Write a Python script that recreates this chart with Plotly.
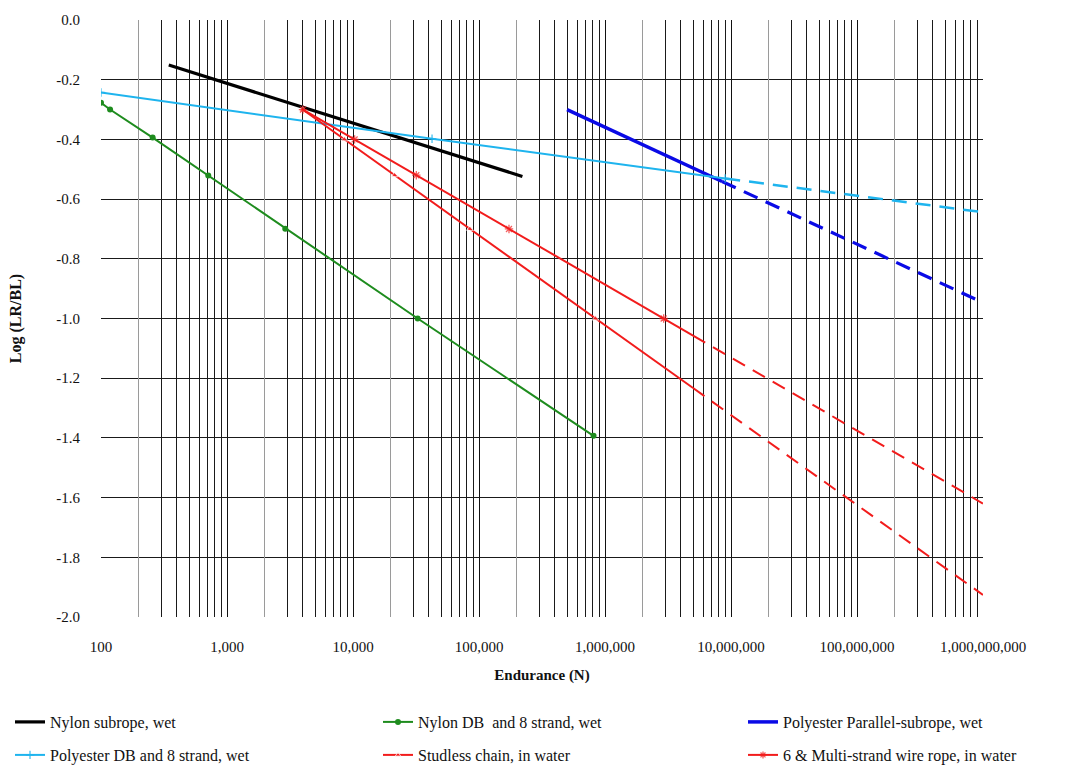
import plotly.graph_objects as go

# ---------------- data ----------------
nylon_sub_N = [345, 221000]
nylon_sub_y = [-0.151, -0.524]

nylon_db_N = [100, 118, 257, 710, 2900, 32600, 811000]
nylon_db_y = [-0.277, -0.30, -0.394, -0.521, -0.699, -1.0, -1.393]

poly_par_N = [500000, 8.5e6]
poly_par_y = [-0.30, -0.541]
poly_par_ext_N = [8.5e6, 1e9]
poly_par_ext_y = [-0.541, -0.947]

poly_db_N = [100, 42400, 9e6]
poly_db_y = [-0.243, -0.398, -0.531]
poly_db_ext_N = [9e6, 1e9]
poly_db_ext_y = [-0.531, -0.644]

chain_N = [3980, 8550, 21400, 84700, 840000, 5e6]
chain_y = [-0.30, -0.40, -0.52, -0.70, -1.0, -1.233]
chain_ext_N = [5e6, 1e9]
chain_ext_y = [-1.233, -1.926]

wire_N = [4010, 10300, 31800, 173000, 2.92e6, 5e6]
wire_y = [-0.30, -0.40, -0.52, -0.70, -1.0, -1.057]
wire_ext_N = [5e6, 1e9]
wire_ext_y = [-1.057, -1.62]

x_tickvals = [1e2, 1e3, 1e4, 1e5, 1e6, 1e7, 1e8, 1e9]
x_ticktext = ["100", "1,000", "10,000", "100,000", "1,000,000",
              "10,000,000", "100,000,000", "1,000,000,000"]
y_tickvals = [0.0, -0.2, -0.4, -0.6, -0.8, -1.0, -1.2, -1.4, -1.6, -1.8, -2.0]
y_ticktext = ["0.0", "-0.2", "-0.4", "-0.6", "-0.8", "-1.0", "-1.2", "-1.4",
              "-1.6", "-1.8", "-2.0"]

names = ["Nylon subrope, wet", "Nylon DB  and 8 strand, wet",
         "Polyester Parallel-subrope, wet", "Polyester DB and 8 strand, wet",
         "Studless chain, in water", "6 & Multi-strand wire rope, in water"]

# ---------------- figure ----------------
FONT = "Liberation Serif"
BLACK = "#000000"
GREEN = "#1e8c1e"
BLUE = "#0a0ae6"
CYAN = "#1eb4ee"
RED = "#f21c1c"


def sizes(n, s, hide_last=False):
    out = [s] * n
    if hide_last:
        out[-1] = 0
    return out


fig = go.Figure()

minor_black = [m * 10 ** k for k in range(2, 9) for m in range(3, 10)]
minor_gray = [2 * 10 ** k for k in range(2, 9)]

fig.add_trace(go.Scatter(x=nylon_sub_N, y=nylon_sub_y, mode="lines", name=names[0],
                         line=dict(color=BLACK, width=3.2), legend="legend"))
fig.add_trace(go.Scatter(x=nylon_db_N, y=nylon_db_y, mode="lines+markers", name=names[1],
                         line=dict(color=GREEN, width=2),
                         marker=dict(symbol="circle", size=6, color=GREEN), legend="legend2"))
fig.add_trace(go.Scatter(x=poly_par_N, y=poly_par_y, mode="lines", name=names[2],
                         line=dict(color=BLUE, width=3.5), legend="legend3",
                         legendgroup="pp"))
fig.add_trace(go.Scatter(x=poly_par_ext_N, y=poly_par_ext_y, mode="lines", name=names[2],
                         line=dict(color=BLUE, width=3.2, dash="15px,9px"),
                         showlegend=False, legendgroup="pp", legend="legend3"))
fig.add_trace(go.Scatter(x=poly_db_N, y=poly_db_y, mode="lines+markers", name=names[3],
                         line=dict(color=CYAN, width=2),
                         marker=dict(symbol="cross-thin", size=sizes(len(poly_db_N), 6),
                                     line=dict(color=CYAN, width=1.5)),
                         legend="legend4", legendgroup="pd"))
fig.add_trace(go.Scatter(x=poly_db_ext_N, y=poly_db_ext_y, mode="lines", name=names[3],
                         line=dict(color=CYAN, width=2.5, dash="15px,9px"),
                         showlegend=False, legendgroup="pd", legend="legend4"))
fig.add_trace(go.Scatter(x=chain_N, y=chain_y, mode="lines+markers", name=names[4],
                         line=dict(color=RED, width=2),
                         marker=dict(symbol="triangle-up",
                                     size=sizes(len(chain_N), 6, True), color=RED),
                         legend="legend5", legendgroup="ch"))
fig.add_trace(go.Scatter(x=chain_ext_N, y=chain_ext_y, mode="lines", name=names[4],
                         line=dict(color=RED, width=2, dash="14px,9px"),
                         showlegend=False, legendgroup="ch", legend="legend5"))
fig.add_trace(go.Scatter(x=wire_N, y=wire_y, mode="lines+markers", name=names[5],
                         line=dict(color=RED, width=2),
                         marker=dict(symbol="asterisk", size=sizes(len(wire_N), 7, True),
                                     line=dict(color=RED, width=1.3)),
                         legend="legend6", legendgroup="wr"))
fig.add_trace(go.Scatter(x=wire_ext_N, y=wire_ext_y, mode="lines", name=names[5],
                         line=dict(color=RED, width=2, dash="14px,9px"),
                         showlegend=False, legendgroup="wr", legend="legend6", xaxis="x2"))


def leg(xpx, ypx):
    return dict(orientation="h", xref="container", yref="container",
                x=xpx / 1091, y=(771 - ypx) / 771, xanchor="left", yanchor="middle",
                font=dict(family=FONT, size=16), bgcolor="rgba(0,0,0,0)")


fig.update_layout(
    width=1091, height=771,
    paper_bgcolor="white", plot_bgcolor="white",
    margin=dict(l=101, r=108, t=18, b=154),
    font=dict(family=FONT, size=15, color="#111"),
    xaxis=dict(type="log", range=[2, 9], tickvals=x_tickvals, ticktext=x_ticktext,
               showgrid=True, gridcolor="#111", gridwidth=1,
               minor=dict(tickvals=minor_black, showgrid=True, gridcolor="#1a1a1a",
                          gridwidth=1, ticks=""),
               ticks="", ticklabelstandoff=19, zeroline=False,
               showline=False, tickfont=dict(family=FONT, size=15),
               title=dict(text="<b>Endurance (N)</b>", font=dict(family=FONT, size=15),
                          standoff=15)),
    xaxis2=dict(type="log", range=[2, 9], overlaying="x", tickvals=minor_gray,
                showgrid=True, gridcolor="#9a9a9a", gridwidth=1, showticklabels=False,
                ticks="", zeroline=False, showline=False),
    yaxis=dict(range=[-2.0, 0.0], tickvals=y_tickvals, ticktext=y_ticktext,
               showgrid=True, gridcolor="#1a1a1a", gridwidth=1, zeroline=False,
               ticks="", ticklabelstandoff=20, showline=False,
               tickfont=dict(family=FONT, size=15),
               title=dict(text="<b>Log (LR/BL)</b>", font=dict(family=FONT, size=16),
                          standoff=30)),
    legend=leg(10, 722),
    legend2=leg(378, 722),
    legend3=leg(743, 722),
    legend4=leg(10, 755),
    legend5=leg(378, 755),
    legend6=leg(743, 755),
    showlegend=True,
)

fig.write_html("out.html")
